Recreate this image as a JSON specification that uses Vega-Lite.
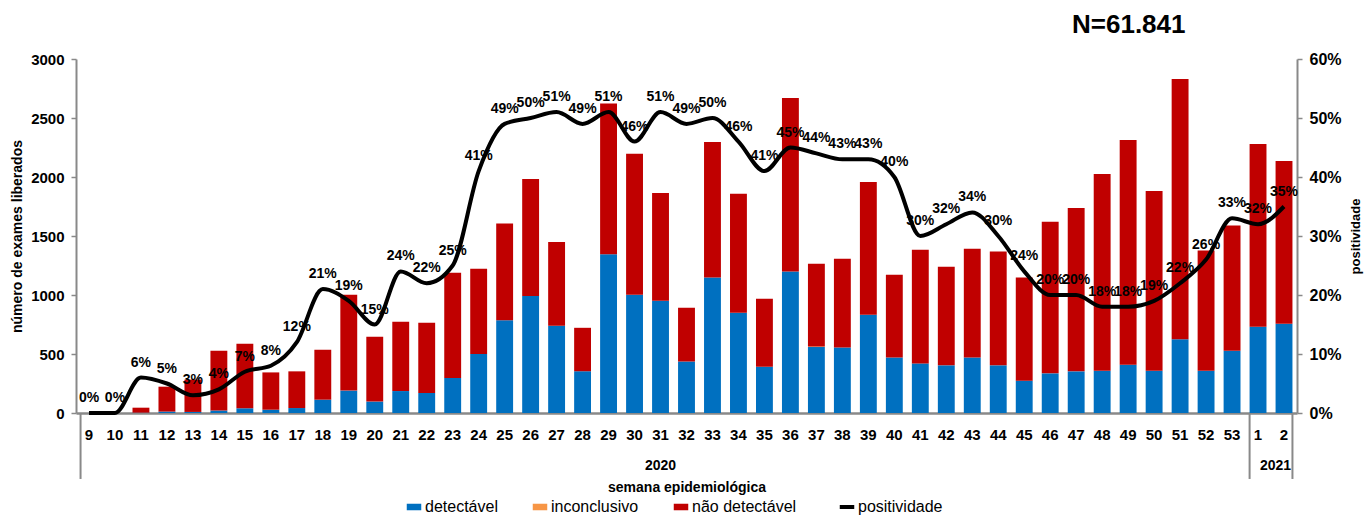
{
  "$schema": "https://vega.github.io/schema/vega-lite/v6.json",
  "autosize": {"type": "none"},
  "padding": {"left": 76, "top": 59, "right": 73, "bottom": 103},
  "width": 1221,
  "height": 354,
  "background": "white",
  "title": {
    "text": "N=61.841",
    "anchor": "start",
    "frame": "group",
    "dx": 996,
    "offset": 13,
    "fontSize": 26,
    "fontWeight": "bold",
    "font": "Liberation Sans",
    "color": "black"
  },
  "datasets": {
    "semanas": [
      {"sem": "2020-09", "detectável": 0, "inconclusivo": 0, "não detectável": 0, "pos": 0},
      {"sem": "2020-10", "detectável": 0, "inconclusivo": 0, "não detectável": 0, "pos": 0},
      {"sem": "2020-11", "detectável": 3, "inconclusivo": 0, "não detectável": 42, "pos": 0.06},
      {"sem": "2020-12", "detectável": 12, "inconclusivo": 0, "não detectável": 211, "pos": 0.05},
      {"sem": "2020-13", "detectável": 9, "inconclusivo": 0, "não detectável": 274, "pos": 0.03},
      {"sem": "2020-14", "detectável": 21, "inconclusivo": 0, "não detectável": 507, "pos": 0.04},
      {"sem": "2020-15", "detectável": 40, "inconclusivo": 0, "não detectável": 547, "pos": 0.07},
      {"sem": "2020-16", "detectável": 28, "inconclusivo": 0, "não detectável": 316, "pos": 0.08},
      {"sem": "2020-17", "detectável": 42, "inconclusivo": 0, "não detectável": 311, "pos": 0.12},
      {"sem": "2020-18", "detectável": 113, "inconclusivo": 0, "não detectável": 423, "pos": 0.21},
      {"sem": "2020-19", "detectável": 190, "inconclusivo": 0, "não detectável": 812, "pos": 0.19},
      {"sem": "2020-20", "detectável": 97, "inconclusivo": 0, "não detectável": 549, "pos": 0.15},
      {"sem": "2020-21", "detectável": 186, "inconclusivo": 0, "não detectável": 587, "pos": 0.24},
      {"sem": "2020-22", "detectável": 170, "inconclusivo": 0, "não detectável": 595, "pos": 0.22},
      {"sem": "2020-23", "detectável": 297, "inconclusivo": 0, "não detectável": 891, "pos": 0.25},
      {"sem": "2020-24", "detectável": 501, "inconclusivo": 0, "não detectável": 721, "pos": 0.41},
      {"sem": "2020-25", "detectável": 787, "inconclusivo": 0, "não detectável": 819, "pos": 0.49},
      {"sem": "2020-26", "detectável": 992, "inconclusivo": 0, "não detectável": 992, "pos": 0.50},
      {"sem": "2020-27", "detectável": 740, "inconclusivo": 0, "não detectável": 710, "pos": 0.51},
      {"sem": "2020-28", "detectável": 354, "inconclusivo": 0, "não detectável": 368, "pos": 0.49},
      {"sem": "2020-29", "detectável": 1345, "inconclusivo": 0, "não detectável": 1277, "pos": 0.51},
      {"sem": "2020-30", "detectável": 1002, "inconclusivo": 0, "não detectável": 1194, "pos": 0.46},
      {"sem": "2020-31", "detectável": 951, "inconclusivo": 0, "não detectável": 914, "pos": 0.51},
      {"sem": "2020-32", "detectável": 437, "inconclusivo": 0, "não detectável": 455, "pos": 0.49},
      {"sem": "2020-33", "detectável": 1149, "inconclusivo": 0, "não detectável": 1148, "pos": 0.50},
      {"sem": "2020-34", "detectável": 849, "inconclusivo": 0, "não detectável": 1008, "pos": 0.46},
      {"sem": "2020-35", "detectável": 392, "inconclusivo": 0, "não detectável": 576, "pos": 0.41},
      {"sem": "2020-36", "detectável": 1199, "inconclusivo": 0, "não detectável": 1471, "pos": 0.45},
      {"sem": "2020-37", "detectável": 559, "inconclusivo": 5, "não detectável": 700, "pos": 0.44},
      {"sem": "2020-38", "detectável": 556, "inconclusivo": 0, "não detectável": 751, "pos": 0.43},
      {"sem": "2020-39", "detectável": 832, "inconclusivo": 0, "não detectável": 1126, "pos": 0.43},
      {"sem": "2020-40", "detectável": 471, "inconclusivo": 0, "não detectável": 700, "pos": 0.40},
      {"sem": "2020-41", "detectável": 420, "inconclusivo": 0, "não detectável": 963, "pos": 0.30},
      {"sem": "2020-42", "detectável": 404, "inconclusivo": 0, "não detectável": 835, "pos": 0.32},
      {"sem": "2020-43", "detectável": 471, "inconclusivo": 0, "não detectável": 920, "pos": 0.34},
      {"sem": "2020-44", "detectável": 404, "inconclusivo": 0, "não detectável": 965, "pos": 0.30},
      {"sem": "2020-45", "detectável": 274, "inconclusivo": 0, "não detectável": 875, "pos": 0.24},
      {"sem": "2020-46", "detectável": 336, "inconclusivo": 0, "não detectável": 1284, "pos": 0.20},
      {"sem": "2020-47", "detectável": 353, "inconclusivo": 0, "não detectável": 1385, "pos": 0.20},
      {"sem": "2020-48", "detectável": 358, "inconclusivo": 0, "não detectável": 1668, "pos": 0.18},
      {"sem": "2020-49", "detectável": 409, "inconclusivo": 0, "não detectável": 1905, "pos": 0.18},
      {"sem": "2020-50", "detectável": 358, "inconclusivo": 0, "não detectável": 1524, "pos": 0.19},
      {"sem": "2020-51", "detectável": 624, "inconclusivo": 0, "não detectável": 2206, "pos": 0.22},
      {"sem": "2020-52", "detectável": 358, "inconclusivo": 0, "não detectável": 1019, "pos": 0.26},
      {"sem": "2020-53", "detectável": 528, "inconclusivo": 0, "não detectável": 1061, "pos": 0.33},
      {"sem": "2021-01", "detectável": 731, "inconclusivo": 0, "não detectável": 1549, "pos": 0.32},
      {"sem": "2021-02", "detectável": 756, "inconclusivo": 0, "não detectável": 1380, "pos": 0.35}
    ],
    "divisoes_inicio": [{"sem": "2020-09"}, {"sem": "2021-01"}],
    "divisoes_fim": [{"sem": "2021-02"}]
  },
  "layer": [
    {
      "layer": [
        {
          "data": {"name": "semanas"},
          "transform": [
            {"fold": ["detectável", "inconclusivo", "não detectável"], "as": ["resultado", "exames"]}
          ],
          "mark": {"type": "bar"},
          "encoding": {
            "x": {
              "field": "sem",
              "type": "ordinal",
              "sort": "ascending",
              "title": "semana epidemiológica",
              "scale": {"paddingInner": 0.35, "paddingOuter": 0.175},
              "axis": {
                "labelExpr": "toNumber(split(datum.value, '-')[1])",
                "labelAngle": 0,
                "ticks": false,
                "labelPadding": 14,
                "labelFont": "Liberation Sans",
                "labelFontSize": 15,
                "labelFontWeight": "bold",
                "labelColor": "black",
                "domainColor": "#898989",
                "domainWidth": 2.5,
                "titlePadding": 38,
                "titleFont": "Liberation Sans",
                "titleFontSize": 14,
                "titleFontWeight": "bold",
                "titleColor": "black"
              }
            },
            "y": {
              "field": "exames",
              "type": "quantitative",
              "stack": "zero",
              "title": "número de exames liberados",
              "scale": {"domain": [0, 3000], "nice": false},
              "axis": {
                "values": [0, 500, 1000, 1500, 2000, 2500, 3000],
                "format": "d",
                "grid": false,
                "tickSize": 5,
                "tickColor": "#898989",
                "tickWidth": 1.5,
                "domainColor": "#898989",
                "domainWidth": 2,
                "labelPadding": 7,
                "labelFont": "Liberation Sans",
                "labelFontSize": 15,
                "labelFontWeight": "bold",
                "labelColor": "black",
                "titleFont": "Liberation Sans",
                "titleFontSize": 14,
                "titleFontWeight": "bold",
                "titleColor": "black",
                "titlePadding": 6
              }
            },
            "color": {
              "field": "resultado",
              "type": "nominal",
              "scale": {
                "domain": ["detectável", "inconclusivo", "não detectável", "positividade"],
                "range": ["#0070C0", "#F79646", "#C00000", "#000000"]
              },
              "legend": {
                "orient": "none",
                "legendX": 330,
                "legendY": 440,
                "direction": "horizontal",
                "title": null,
                "padding": 0,
                "labelFont": "Liberation Sans",
                "labelFontSize": 16,
                "labelColor": "black",
                "symbolSize": 841,
                "columnPadding": 34,
                "labelOffset": 3,
                "encode": {
                  "symbols": {
                    "update": {
                      "shape": {"signal": "datum.value === 'positividade' ? 'M-0.5,0H0.5' : 'M-0.5,-0.225H0.5V0.225H-0.5Z'"},
                      "stroke": {"signal": "datum.value === 'positividade' ? '#000000' : 'transparent'"},
                      "strokeWidth": {"signal": "datum.value === 'positividade' ? 4 : 0"}
                    }
                  }
                }
              }
            },
            "order": {"field": "resultado", "sort": "ascending"}
          }
        },
        {
          "data": {"name": "divisoes_inicio"},
          "mark": {"type": "rule", "color": "#898989", "strokeWidth": 2, "clip": false},
          "encoding": {
            "x": {"field": "sem", "type": "ordinal", "bandPosition": 0},
            "y": {"datum": 0, "type": "quantitative"},
            "y2": {"datum": -559}
          }
        },
        {
          "data": {"name": "divisoes_fim"},
          "mark": {"type": "rule", "color": "#898989", "strokeWidth": 2, "clip": false},
          "encoding": {
            "x": {"field": "sem", "type": "ordinal", "bandPosition": 1},
            "y": {"datum": 0, "type": "quantitative"},
            "y2": {"datum": -559}
          }
        },
        {
          "data": {"values": [{"sem": "2020-31", "ano": "2020"}]},
          "mark": {"type": "text", "font": "Liberation Sans", "fontSize": 14, "fontWeight": "bold", "color": "black", "baseline": "middle", "clip": false},
          "encoding": {
            "x": {"field": "sem", "type": "ordinal", "bandPosition": 0.5},
            "y": {"datum": -452, "type": "quantitative"},
            "text": {"field": "ano"}
          }
        },
        {
          "data": {"values": [{"sem": "2021-02", "ano": "2021"}]},
          "mark": {"type": "text", "font": "Liberation Sans", "fontSize": 14, "fontWeight": "bold", "color": "black", "baseline": "middle", "clip": false},
          "encoding": {
            "x": {"field": "sem", "type": "ordinal", "bandPosition": 0},
            "y": {"datum": -452, "type": "quantitative"},
            "text": {"field": "ano"}
          }
        }
      ]
    },
    {
      "data": {"name": "semanas"},
      "encoding": {
        "x": {"field": "sem", "type": "ordinal", "sort": "ascending"},
        "y": {
          "field": "pos",
          "type": "quantitative",
          "title": "positividade",
          "scale": {"domain": [0, 0.6], "nice": false},
          "axis": {
            "orient": "right",
            "format": ".0%",
            "values": [0, 0.1, 0.2, 0.3, 0.4, 0.5, 0.6],
            "grid": false,
            "tickSize": 5,
            "tickColor": "#898989",
            "tickWidth": 1.5,
            "domainColor": "#898989",
            "domainWidth": 2,
            "labelPadding": 7,
            "labelFont": "Liberation Sans",
            "labelFontSize": 16,
            "labelFontWeight": "bold",
            "labelColor": "black",
            "titleFont": "Liberation Sans",
            "titleFontSize": 13,
            "titleFontWeight": "bold",
            "titleColor": "black",
            "titleAngle": 270,
            "titlePadding": 21
          }
        }
      },
      "layer": [
        {
          "mark": {"type": "line", "interpolate": "monotone", "strokeWidth": 4, "strokeJoin": "round"},
          "encoding": {"color": {"datum": "positividade"}}
        },
        {
          "mark": {"type": "text", "font": "Liberation Sans", "fontSize": 14, "fontWeight": "bold", "color": "black", "baseline": "bottom", "dy": -8},
          "encoding": {"text": {"field": "pos", "type": "quantitative", "format": ".0%"}}
        }
      ]
    }
  ],
  "resolve": {"scale": {"y": "independent"}},
  "config": {
    "view": {"stroke": null},
    "font": "Liberation Sans"
  }
}
